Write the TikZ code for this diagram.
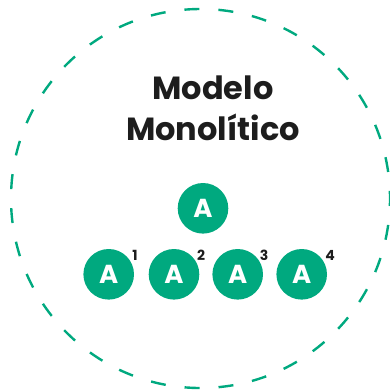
\documentclass[tikz,border=0pt]{standalone}
\usepackage{fontspec}
\setmainfont{Poppins}[BoldFont=* Bold]
\definecolor{mgreen}{HTML}{00A97F}
\definecolor{mtext}{HTML}{1D1D1D}
\begin{document}
\begin{tikzpicture}[x=1pt,y=-1pt,
  appnode/.style={circle,fill=mgreen,minimum size=50.6pt,inner sep=0pt,text=white,font=\fontsize{26}{26}\selectfont\bfseries},
  numlabel/.style={text=mtext,inner sep=0pt,font=\fontsize{14}{14}\selectfont\bfseries}]
\useasboundingbox (0,0) rectangle (390,389);
\draw[mgreen,line width=2.4pt,dash pattern=on 15pt off 19.02pt,dash phase=7.5pt] (200.5,198.5) circle[radius=189.5];
\node[text=mtext,font=\fontsize{32}{41}\selectfont\bfseries,align=center,anchor=base] (title) at (213,140) {Modelo\\Monolítico};
\node[appnode] (top) at (203,208.3) {A};
\node[appnode] (a1) at (108.7,274.3) {A};
\node[appnode] (a2) at (174,274.3) {A};
\node[appnode] (a3) at (237.7,274.3) {A};
\node[appnode] (a4) at (301.7,274.3) {A};
\node[numlabel] (n1) at (135,255.5) {1};
\node[numlabel] (n2) at (201,255.5) {2};
\node[numlabel] (n3) at (264,255.5) {3};
\node[numlabel] (n4) at (330,255.5) {4};
\end{tikzpicture}
\end{document}
